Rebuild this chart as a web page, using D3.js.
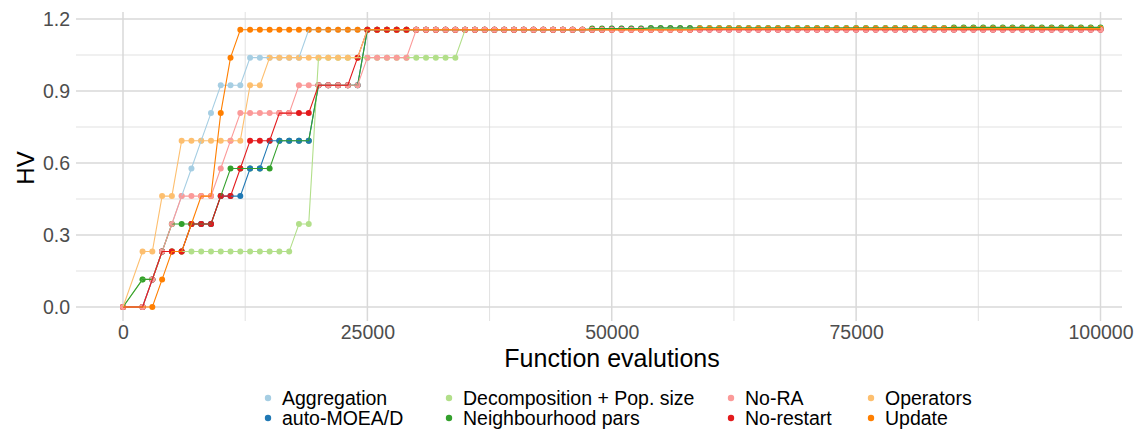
<!DOCTYPE html>
<html>
<head>
<meta charset="utf-8">
<script src="https://cdn.jsdelivr.net/npm/d3@7"></script>
<style>
  html, body { margin: 0; padding: 0; background: #fff; }
  svg text { font-family: "Liberation Sans", Arial, sans-serif; }
</style>
</head>
<body>
<svg id="chart" width="1140" height="429"></svg>
<script>
// Sampling points of the runs (function evaluations)
const evaluations = [0, 2000, 3000, 4000, 5000, 6000, 7000, 8000, 9000, 10000,
  11000, 12000, 13000, 14000, 15000, 16000, 17000, 18000, 19000, 20000,
  21000, 22000, 23000, 24000, 25000, 26000, 27000, 28000, 29000, 30000,
  31000, 32000, 33000, 34000, 35000, 36000, 37000, 38000, 39000, 40000,
  41000, 42000, 43000, 44000, 45000, 46000, 47000, 48000, 49000, 50000,
  51000, 52000, 53000, 54000, 55000, 56000, 57000, 58000, 59000, 60000,
  61000, 62000, 63000, 64000, 65000, 66000, 67000, 68000, 69000, 70000,
  71000, 72000, 73000, 74000, 75000, 76000, 77000, 78000, 79000, 80000,
  81000, 82000, 83000, 84000, 85000, 86000, 87000, 88000, 89000, 90000,
  91000, 92000, 93000, 94000, 95000, 96000, 97000, 98000, 99000, 100000];

const variants = ["Aggregation", "auto-MOEA/D", "Decomposition + Pop. size", "Neighbourhood pars",
  "No-RA", "No-restart", "Operators", "Update"];

// HV reached at each sampling point (ten values per row)
const hvAggregation = [0, 0, 0.115, 0.231, 0.346, 0.462, 0.577, 0.693, 0.808, 0.924,
  0.924, 0.924, 1.039, 1.039, 1.039, 1.039, 1.039, 1.039, 1.155, 1.155,
  1.155, 1.155, 1.155, 1.155, 1.155, 1.155, 1.155, 1.155, 1.155, 1.155,
  1.155, 1.155, 1.155, 1.155, 1.155, 1.155, 1.155, 1.155, 1.155, 1.155,
  1.155, 1.155, 1.155, 1.155, 1.155, 1.155, 1.155, 1.155, 1.155, 1.156,
  1.156, 1.156, 1.156, 1.156, 1.156, 1.156, 1.156, 1.156, 1.156, 1.156,
  1.156, 1.156, 1.156, 1.156, 1.156, 1.156, 1.156, 1.156, 1.156, 1.156,
  1.156, 1.156, 1.156, 1.156, 1.156, 1.156, 1.156, 1.156, 1.156, 1.156,
  1.156, 1.156, 1.156, 1.156, 1.156, 1.156, 1.156, 1.156, 1.156, 1.156,
  1.156, 1.156, 1.156, 1.156, 1.156, 1.156, 1.156, 1.156, 1.156, 1.156];

const hvAutoMOEAD = [0, 0, 0.115, 0.231, 0.231, 0.231, 0.346, 0.346, 0.346, 0.462,
  0.462, 0.462, 0.577, 0.577, 0.693, 0.693, 0.693, 0.693, 0.693, 0.924,
  0.924, 0.924, 0.924, 0.924, 1.155, 1.155, 1.155, 1.155, 1.155, 1.155,
  1.155, 1.155, 1.155, 1.155, 1.155, 1.155, 1.155, 1.155, 1.155, 1.155,
  1.155, 1.155, 1.155, 1.155, 1.155, 1.155, 1.155, 1.155, 1.155, 1.157,
  1.157, 1.157, 1.157, 1.157, 1.157, 1.157, 1.157, 1.157, 1.157, 1.157,
  1.157, 1.157, 1.157, 1.157, 1.157, 1.157, 1.157, 1.157, 1.157, 1.157,
  1.157, 1.157, 1.157, 1.157, 1.157, 1.157, 1.157, 1.157, 1.157, 1.157,
  1.157, 1.157, 1.157, 1.157, 1.157, 1.157, 1.157, 1.157, 1.157, 1.157,
  1.157, 1.157, 1.157, 1.157, 1.157, 1.157, 1.157, 1.157, 1.157, 1.157];

const hvDecomposition = [0, 0.115, 0.115, 0.231, 0.231, 0.231, 0.231, 0.231, 0.231, 0.231,
  0.231, 0.231, 0.231, 0.231, 0.231, 0.231, 0.231, 0.346, 0.346, 1.039,
  1.039, 1.039, 1.039, 1.039, 1.039, 1.039, 1.039, 1.039, 1.039, 1.039,
  1.039, 1.039, 1.039, 1.039, 1.155, 1.155, 1.155, 1.155, 1.155, 1.155,
  1.155, 1.155, 1.155, 1.155, 1.155, 1.155, 1.155, 1.155, 1.155, 1.160,
  1.160, 1.160, 1.160, 1.160, 1.160, 1.160, 1.160, 1.160, 1.160, 1.160,
  1.160, 1.160, 1.160, 1.160, 1.160, 1.160, 1.160, 1.160, 1.160, 1.160,
  1.160, 1.160, 1.160, 1.160, 1.160, 1.160, 1.160, 1.160, 1.160, 1.160,
  1.160, 1.160, 1.160, 1.160, 1.160, 1.160, 1.163, 1.163, 1.163, 1.163,
  1.163, 1.163, 1.163, 1.163, 1.163, 1.163, 1.163, 1.163, 1.163, 1.163];

const hvNeighbourhood = [0, 0.115, 0.115, 0.231, 0.346, 0.346, 0.346, 0.346, 0.346, 0.462,
  0.577, 0.577, 0.577, 0.577, 0.577, 0.693, 0.693, 0.693, 0.693, 0.924,
  0.924, 0.924, 0.924, 0.924, 1.155, 1.155, 1.155, 1.155, 1.155, 1.155,
  1.155, 1.155, 1.155, 1.155, 1.155, 1.155, 1.155, 1.155, 1.155, 1.155,
  1.155, 1.155, 1.155, 1.155, 1.155, 1.155, 1.155, 1.160, 1.160, 1.160,
  1.160, 1.160, 1.160, 1.163, 1.163, 1.163, 1.163, 1.163, 1.163, 1.163,
  1.163, 1.163, 1.163, 1.163, 1.163, 1.163, 1.163, 1.163, 1.163, 1.163,
  1.163, 1.163, 1.163, 1.163, 1.163, 1.163, 1.163, 1.163, 1.163, 1.163,
  1.163, 1.163, 1.163, 1.163, 1.165, 1.165, 1.165, 1.165, 1.165, 1.165,
  1.165, 1.165, 1.165, 1.165, 1.165, 1.165, 1.165, 1.165, 1.165, 1.165];

const hvNoRA = [0, 0, 0.115, 0.231, 0.346, 0.462, 0.462, 0.462, 0.462, 0.577,
  0.693, 0.808, 0.808, 0.808, 0.808, 0.808, 0.808, 0.924, 0.924, 0.924,
  0.924, 0.924, 0.924, 0.924, 1.039, 1.039, 1.039, 1.039, 1.039, 1.155,
  1.155, 1.155, 1.155, 1.155, 1.155, 1.155, 1.155, 1.155, 1.155, 1.155,
  1.155, 1.155, 1.155, 1.155, 1.155, 1.155, 1.155, 1.155, 1.155, 1.155,
  1.155, 1.155, 1.155, 1.155, 1.155, 1.155, 1.155, 1.155, 1.155, 1.155,
  1.155, 1.155, 1.155, 1.155, 1.155, 1.155, 1.155, 1.155, 1.155, 1.155,
  1.155, 1.155, 1.155, 1.155, 1.155, 1.155, 1.155, 1.155, 1.155, 1.155,
  1.155, 1.155, 1.155, 1.155, 1.155, 1.155, 1.155, 1.155, 1.155, 1.155,
  1.155, 1.155, 1.155, 1.155, 1.155, 1.155, 1.155, 1.155, 1.155, 1.155];

const hvNoRestart = [0, 0, 0.115, 0.231, 0.231, 0.231, 0.346, 0.346, 0.346, 0.462,
  0.462, 0.577, 0.693, 0.693, 0.693, 0.808, 0.808, 0.808, 0.808, 0.924,
  0.924, 0.924, 0.924, 1.039, 1.155, 1.155, 1.155, 1.155, 1.155, 1.155,
  1.155, 1.155, 1.155, 1.155, 1.155, 1.155, 1.155, 1.155, 1.155, 1.155,
  1.155, 1.155, 1.155, 1.155, 1.155, 1.155, 1.155, 1.155, 1.155, 1.155,
  1.155, 1.155, 1.155, 1.155, 1.155, 1.155, 1.155, 1.155, 1.155, 1.155,
  1.155, 1.155, 1.155, 1.155, 1.155, 1.155, 1.155, 1.155, 1.155, 1.155,
  1.155, 1.155, 1.155, 1.155, 1.155, 1.155, 1.155, 1.155, 1.155, 1.155,
  1.155, 1.155, 1.155, 1.155, 1.155, 1.155, 1.155, 1.155, 1.155, 1.155,
  1.155, 1.155, 1.155, 1.155, 1.155, 1.155, 1.155, 1.155, 1.155, 1.155];

const hvOperators = [0, 0.231, 0.231, 0.462, 0.462, 0.693, 0.693, 0.693, 0.693, 0.693,
  0.693, 0.693, 0.924, 0.924, 1.039, 1.039, 1.039, 1.039, 1.039, 1.039,
  1.039, 1.039, 1.039, 1.039, 1.155, 1.155, 1.155, 1.155, 1.155, 1.155,
  1.155, 1.155, 1.155, 1.155, 1.155, 1.155, 1.155, 1.155, 1.155, 1.155,
  1.155, 1.155, 1.155, 1.155, 1.155, 1.155, 1.155, 1.155, 1.155, 1.155,
  1.155, 1.155, 1.155, 1.155, 1.155, 1.155, 1.155, 1.155, 1.160, 1.160,
  1.160, 1.160, 1.160, 1.160, 1.160, 1.160, 1.160, 1.160, 1.160, 1.160,
  1.160, 1.160, 1.160, 1.160, 1.160, 1.160, 1.160, 1.160, 1.160, 1.160,
  1.160, 1.160, 1.160, 1.160, 1.160, 1.160, 1.160, 1.160, 1.160, 1.160,
  1.160, 1.160, 1.160, 1.160, 1.160, 1.160, 1.160, 1.160, 1.160, 1.160];

const hvUpdate = [0, 0, 0, 0.115, 0.231, 0.231, 0.346, 0.462, 0.462, 0.808,
  1.039, 1.155, 1.155, 1.155, 1.155, 1.155, 1.155, 1.155, 1.155, 1.155,
  1.155, 1.155, 1.155, 1.155, 1.155, 1.155, 1.155, 1.155, 1.155, 1.155,
  1.155, 1.155, 1.155, 1.155, 1.155, 1.155, 1.155, 1.155, 1.155, 1.155,
  1.155, 1.155, 1.155, 1.155, 1.155, 1.155, 1.155, 1.155, 1.155, 1.155,
  1.155, 1.155, 1.155, 1.155, 1.155, 1.155, 1.155, 1.155, 1.159, 1.159,
  1.159, 1.159, 1.159, 1.159, 1.159, 1.159, 1.159, 1.159, 1.159, 1.159,
  1.159, 1.159, 1.159, 1.159, 1.159, 1.159, 1.159, 1.159, 1.159, 1.159,
  1.159, 1.159, 1.159, 1.159, 1.159, 1.159, 1.159, 1.159, 1.159, 1.159,
  1.159, 1.159, 1.159, 1.159, 1.159, 1.159, 1.159, 1.159, 1.159, 1.159];

const colours = ["#A6CEE3", "#1F78B4", "#B2DF8A", "#33A02C", "#FB9A99", "#E31A1C", "#FDBF6F", "#FF7F00"];

const xTicks = [0, 25000, 50000, 75000, 100000];
const xMinor = [12500, 37500, 62500, 87500];
const yTicks = [0, 0.3, 0.6, 0.9, 1.2];
const yMinor = [0.15, 0.45, 0.75, 1.05];

const seriesValues = [hvAggregation, hvAutoMOEAD, hvDecomposition, hvNeighbourhood,
  hvNoRA, hvNoRestart, hvOperators, hvUpdate];

const series = variants.map((name, i) => ({
  name,
  colour: colours[i],
  points: evaluations.map((e, j) => ({ x: e, y: seriesValues[i][j] }))
}));

// Point stacking, bottom to top
const pointOrder = ["Aggregation", "Decomposition + Pop. size", "Neighbourhood pars", "auto-MOEA/D",
  "Operators", "Update", "No-restart", "No-RA"];

const svg = d3.select("#chart");
const panel = { left: 76, right: 1122, top: 12, bottom: 321 };

const x = d3.scaleLinear().domain([0, 100000]).range([123, 1100.5]);
const y = d3.scaleLinear().domain([0, 1.2]).range([307, 19]);

// grid
const grid = svg.append("g");
grid.selectAll("line.ymin").data(yMinor).join("line")
  .attr("x1", panel.left).attr("x2", panel.right)
  .attr("y1", d => y(d)).attr("y2", d => y(d))
  .attr("stroke", "#d9d9d9").attr("stroke-width", 0.8);
grid.selectAll("line.xmin").data(xMinor).join("line")
  .attr("y1", panel.top).attr("y2", panel.bottom)
  .attr("x1", d => x(d)).attr("x2", d => x(d))
  .attr("stroke", "#d9d9d9").attr("stroke-width", 0.8);
grid.selectAll("line.ymaj").data(yTicks).join("line")
  .attr("x1", panel.left).attr("x2", panel.right)
  .attr("y1", d => y(d)).attr("y2", d => y(d))
  .attr("stroke", "#d9d9d9").attr("stroke-width", 1.5);
grid.selectAll("line.xmaj").data(xTicks).join("line")
  .attr("y1", panel.top).attr("y2", panel.bottom)
  .attr("x1", d => x(d)).attr("x2", d => x(d))
  .attr("stroke", "#d9d9d9").attr("stroke-width", 1.5);

// axes (labels only)
const yAxis = d3.axisLeft(y).tickValues(yTicks).tickFormat(d3.format(".1f")).tickSize(0).tickPadding(6);
svg.append("g").attr("transform", `translate(${panel.left},0)`).call(yAxis)
  .call(g => g.select(".domain").remove())
  .selectAll("text").attr("font-size", 19.5).attr("fill", "#4d4d4d")
  .attr("font-family", "Liberation Sans, Arial, sans-serif");

const xAxis = d3.axisBottom(x).tickValues(xTicks).tickFormat(d3.format("d")).tickSize(0).tickPadding(4);
svg.append("g").attr("transform", `translate(0,${panel.bottom})`).call(xAxis)
  .call(g => g.select(".domain").remove())
  .selectAll("text").attr("font-size", 19.5).attr("fill", "#4d4d4d")
  .attr("font-family", "Liberation Sans, Arial, sans-serif");

svg.append("text").attr("x", 612).attr("y", 366.5).attr("text-anchor", "middle")
  .attr("font-size", 25).attr("fill", "#000").text("Function evalutions");
svg.append("text").attr("transform", "translate(34,168) rotate(-90)").attr("text-anchor", "middle")
  .attr("font-size", 24).attr("fill", "#000").text("HV");

const plot = svg.append("g");

// points underneath
const ordered = pointOrder.map(n => series.find(s => s.name === n));
plot.selectAll("g.pts").data(ordered).join("g")
  .selectAll("circle").data(d => d.points.map(p => ({ ...p, colour: d.colour }))).join("circle")
  .attr("cx", d => x(d.x)).attr("cy", d => y(d.y)).attr("r", 3)
  .attr("fill", d => d.colour);

// lines on top
const line = d3.line().x(d => x(d.x)).y(d => y(d.y));
plot.selectAll("path.run").data(series).join("path")
  .attr("d", d => line(d.points))
  .attr("fill", "none").attr("stroke", d => d.colour).attr("stroke-width", 1.1);

// legend: 4 columns x 2 rows, filled column-wise
const legendCols = [268, 449, 731, 871];
const legendRows = [398, 418];
const legend = svg.append("g");
variants.forEach((name, i) => {
  const cx = legendCols[Math.floor(i / 2)];
  const cy = legendRows[i % 2];
  legend.append("circle").attr("cx", cx).attr("cy", cy).attr("r", 3.2).attr("fill", colours[i]);
  legend.append("text").attr("x", cx + 14).attr("y", cy + 6.5)
    .attr("font-size", 19.5).attr("fill", "#000").text(name);
});
</script>
</body>
</html>
